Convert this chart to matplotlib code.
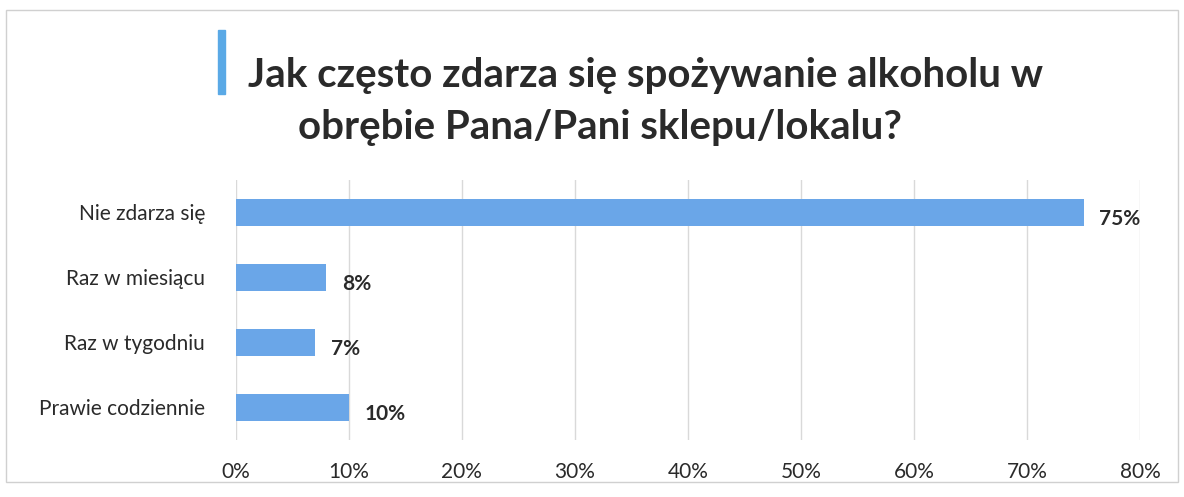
import matplotlib.pyplot as plt
from matplotlib.patches import Rectangle

# dane z wykresu
categories = ["Nie zdarza się", "Raz w miesiącu", "Raz w tygodniu", "Prawie codziennie"]
values = [75, 8, 7, 10]
ticks = [0, 10, 20, 30, 40, 50, 60, 70, 80]
tick_labels = ["0%", "10%", "20%", "30%", "40%", "50%", "60%", "70%", "80%"]
title_lines = ["Jak często zdarza się spożywanie alkoholu w",
               "obrębie Pana/Pani sklepu/lokalu?"]

bar_color = "#6aa6e8"
text_color = "#2a2a2a"
plt.rcParams['font.family'] = ['Lato', 'DejaVu Sans']

fig = plt.figure(figsize=(11.84, 4.97), dpi=100)
ax = fig.add_axes([0.199, 0.115, 0.764, 0.523])

y = list(range(len(categories)))
ax.barh(y, values, height=0.42, color=bar_color, zorder=2)
for yi, v in zip(y, values):
    ax.text(v + 1.4, yi + 0.1, f"{v}%", va="center", ha="left",
            fontsize=15, color=text_color, fontweight="bold")

ax.set_xlim(0, 80)
ax.set_ylim(len(categories) - 0.5, -0.5)
ax.set_xticks(ticks)
ax.set_xticklabels(tick_labels, fontsize=15, color=text_color)
ax.set_yticks(y)
ax.set_yticklabels(categories, fontsize=15, color=text_color)
ax.tick_params(axis="both", length=0)
ax.tick_params(axis="x", pad=16)
ax.tick_params(axis="y", pad=22)
ax.grid(axis="x", color="#d9d9d9", linewidth=1, zorder=0)
for s in ax.spines.values():
    s.set_visible(False)

# tytuł z niebieskim paskiem
fig.text(0.2095, 0.849, title_lines[0], ha="left", va="center", fontsize=29,
         fontweight="bold", color=text_color)
fig.text(0.2517, 0.744, title_lines[1], ha="left", va="center", fontsize=29,
         fontweight="bold", color=text_color)
fig.patches.append(Rectangle((0.184, 0.81), 0.006, 0.13, transform=fig.transFigure,
                             color="#5aa9e6", figure=fig))
# ramka
fig.patches.append(Rectangle((0.005, 0.03), 0.99, 0.95, transform=fig.transFigure,
                             fill=False, edgecolor="#d0d0d0", linewidth=1, figure=fig))

fig.savefig("out.png", dpi=100)
